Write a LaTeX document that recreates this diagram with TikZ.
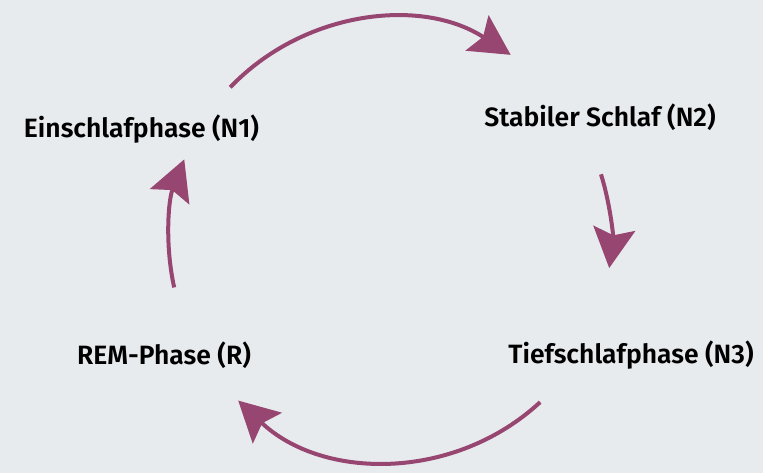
\documentclass[tikz,border=0pt]{standalone}
\usepackage{fontspec}
\setmainfont{Fira Sans}
\newfontfamily\labfont{Fira Sans SemiBold}
\usetikzlibrary{arrows.meta}
\definecolor{bg}{HTML}{E8EBEE}
\definecolor{plum}{RGB}{150,70,112}
\tikzset{
  phase/.style={font=\labfont\fontsize{26.5}{30}\selectfont, text=black, inner sep=0pt},
  cyclearrow/.style={draw=plum, line width=4pt,
    -{Stealth[length=40pt,width=42pt,inset=7pt]}}
}
\begin{document}
\begin{tikzpicture}[x=1pt,y=1pt]
\fill[bg] (0,0) rectangle (763,473);
\useasboundingbox (0,0) rectangle (763,473);
\coordinate (C) at (390,233);
\node[phase] (n1) at (141.5,344) {Einschlafphase (N1)};
\node[phase] (n2) at (600,356) {Stabiler Schlaf (N2)};
\node[phase] (n3) at (631,118) {Tiefschlafphase (N3)};
\node[phase] (r)  at (164,118) {REM-Phase (R)};
\coordinate (a1) at ([shift={(136.3:221)}]C);
\coordinate (a2) at ([shift={(17.3:221)}]C);
\coordinate (a3) at ([shift={(-47.2:221)}]C);
\coordinate (a4) at ([shift={(192.4:221)}]C);
\draw[cyclearrow] (a1) arc[start angle=136.3, end angle=56.9, radius=221];
\draw[cyclearrow] (a2) arc[start angle=17.3, end angle=-7.3, radius=221];
\draw[cyclearrow] (a3) arc[start angle=-47.2, end angle=-133.4, radius=221];
\draw[cyclearrow] (a4) arc[start angle=192.4, end angle=158.6, radius=221];
\end{tikzpicture}
\end{document}
